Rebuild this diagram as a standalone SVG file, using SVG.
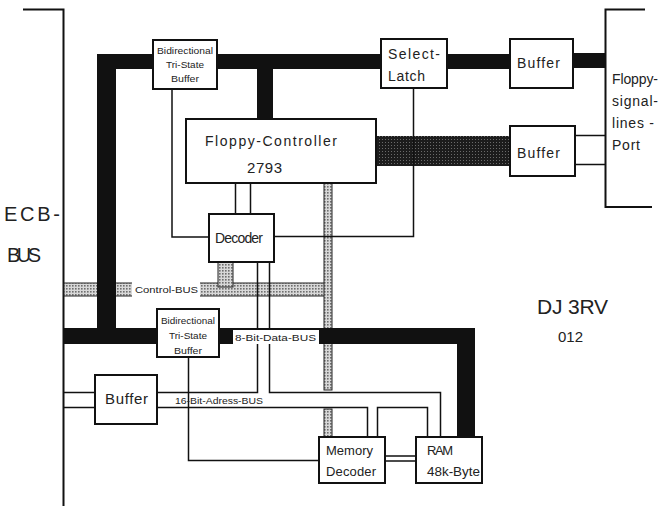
<svg xmlns="http://www.w3.org/2000/svg" width="661" height="506" viewBox="0 0 661 506">
<defs>
<pattern id="light" width="3" height="3" patternUnits="userSpaceOnUse"><rect width="3" height="3" fill="#d8d8d8"/><rect width="1.6" height="1.6" fill="#6e6e6e"/></pattern>
<pattern id="dark" width="3" height="3" patternUnits="userSpaceOnUse"><rect width="3" height="3" fill="#1c1c1c"/><rect x="1" y="1" width="1" height="1" fill="#6a6a6a"/></pattern>
</defs>
<style>
.ln{fill:none;stroke:#111;stroke-width:1.5}
.br{fill:none;stroke:#111;stroke-width:2}
.bus{fill:#111}
.st{fill:url(#light);stroke:#222;stroke-width:1}
.box{fill:#fff;stroke:#111;stroke-width:2}
.t{font-family:"Liberation Sans",Arial,sans-serif;fill:#222}
.lbl{fill:#fff}
</style>
<rect width="661" height="506" fill="#fff"/>
<g id="ecb-bus">
<path class="br" d="M23 9.5H63.5V506"/>
<text class="t" x="4" y="221" font-size="20" textLength="56" lengthAdjust="spacing">ECB-</text>
<text class="t" x="7" y="262" font-size="20" textLength="34" lengthAdjust="spacing">BUS</text>
</g>
<g id="port">
<path class="br" d="M645 9.5H605.5V207H652"/>
<text class="t" x="612" y="84" font-size="14" textLength="46" lengthAdjust="spacing">Floppy-</text>
<text class="t" x="612" y="106" font-size="14" textLength="46" lengthAdjust="spacing">signal-</text>
<text class="t" x="612" y="128" font-size="14" textLength="42" lengthAdjust="spacing">lines -</text>
<text class="t" x="612" y="150" font-size="14" textLength="28" lengthAdjust="spacing">Port</text>
</g>
<g id="connectors">
<rect x="376" y="136" width="134" height="30" fill="url(#dark)"/>
<rect class="st" x="64" y="283" width="264" height="13"/>
<rect class="st" x="218" y="262" width="15" height="25"/>
<rect class="st" x="324" y="183" width="8" height="207"/>
<rect class="st" x="324" y="409" width="8" height="28"/>
<rect class="lbl" x="132" y="282" width="68" height="15"/>
<path class="ln" d="M172 89V237H209"/>
<path class="ln" d="M274 236.5H413.5V88"/>
<path class="ln" d="M235.5 183V214M250.5 183V214"/>
<path class="ln" d="M257.5 262V392.5H157"/>
<path class="ln" d="M269.5 262V392.5H440.5V437"/>
<path class="ln" d="M157 407.5H367.5V437"/>
<path class="ln" d="M377.5 437V407.5H427.5V437"/>
<path class="ln" d="M63 392.5H95M63 407.5H95"/>
<path class="ln" d="M188.5 357V460.5H319"/>
<path class="ln" d="M385 456H416M385 461H416"/>
<path class="ln" d="M575 135.5H605M575 164.5H605"/>
<rect class="bus" x="97" y="54" width="413" height="15"/>
<rect class="bus" x="573" y="53" width="33" height="15"/>
<rect class="bus" x="97" y="54" width="19" height="290"/>
<rect class="bus" x="257" y="68" width="16" height="52"/>
<rect class="bus" x="63" y="328" width="412" height="16"/>
<rect class="bus" x="457" y="328" width="18" height="110"/>
<rect class="lbl" x="233" y="330" width="86" height="14"/>
<text class="t" x="135" y="293" font-size="9.5" textLength="63" lengthAdjust="spacingAndGlyphs">Control-BUS</text>
<text class="t" x="235" y="341" font-size="9.5" textLength="81" lengthAdjust="spacingAndGlyphs">8-Bit-Data-BUS</text>
<text class="t" x="175" y="404" font-size="9.5" textLength="88" lengthAdjust="spacingAndGlyphs">16-Bit-Adress-BUS</text>
</g>
<g id="bidir-top">
<rect class="box" x="153" y="40" width="64" height="49"/>
<text class="t" x="185" y="54" font-size="8.5" text-anchor="middle" textLength="56" lengthAdjust="spacingAndGlyphs">Bidirectional</text>
<text class="t" x="185" y="68" font-size="8.5" text-anchor="middle" textLength="38" lengthAdjust="spacingAndGlyphs">Tri-State</text>
<text class="t" x="185" y="82" font-size="8.5" text-anchor="middle" textLength="28" lengthAdjust="spacingAndGlyphs">Buffer</text>
</g>
<g id="select-latch">
<rect class="box" x="381" y="39" width="66" height="49"/>
<text class="t" x="388" y="59" font-size="14" textLength="52" lengthAdjust="spacing">Select-</text>
<text class="t" x="388" y="81" font-size="14" textLength="37" lengthAdjust="spacing">Latch</text>
</g>
<g id="buffer-1">
<rect class="box" x="510" y="39" width="63" height="49"/>
<text class="t" x="517" y="68" font-size="14" textLength="43" lengthAdjust="spacing">Buffer</text>
</g>
<g id="floppy-controller">
<rect class="box" x="186" y="119" width="190" height="64"/>
<text class="t" x="205" y="146" font-size="14" textLength="132" lengthAdjust="spacing">Floppy-Controller</text>
<text class="t" x="247" y="173" font-size="15" textLength="35" lengthAdjust="spacing">2793</text>
</g>
<g id="buffer-2">
<rect class="box" x="510" y="126" width="65" height="50"/>
<text class="t" x="517" y="158" font-size="14" textLength="43" lengthAdjust="spacing">Buffer</text>
</g>
<g id="decoder">
<rect class="box" x="209" y="214" width="65" height="48"/>
<text class="t" x="215" y="243" font-size="14" textLength="48" lengthAdjust="spacing">Decoder</text>
</g>
<g id="bidir-bottom">
<rect class="box" x="157" y="309" width="62" height="48"/>
<text class="t" x="188" y="324" font-size="8.5" text-anchor="middle" textLength="54" lengthAdjust="spacingAndGlyphs">Bidirectional</text>
<text class="t" x="188" y="339" font-size="8.5" text-anchor="middle" textLength="38" lengthAdjust="spacingAndGlyphs">Tri-State</text>
<text class="t" x="188" y="354" font-size="8.5" text-anchor="middle" textLength="28" lengthAdjust="spacingAndGlyphs">Buffer</text>
</g>
<g id="buffer-left">
<rect class="box" x="95" y="375" width="62" height="49"/>
<text class="t" x="105" y="404" font-size="15" textLength="43" lengthAdjust="spacing">Buffer</text>
</g>
<g id="memory-decoder">
<rect class="box" x="319" y="437" width="66" height="46"/>
<text class="t" x="326" y="455" font-size="13" textLength="47" lengthAdjust="spacing">Memory</text>
<text class="t" x="326" y="476" font-size="13" textLength="50" lengthAdjust="spacing">Decoder</text>
</g>
<g id="ram">
<rect class="box" x="416" y="437" width="66" height="46"/>
<text class="t" x="427" y="455" font-size="13" textLength="26" lengthAdjust="spacing">RAM</text>
<text class="t" x="427" y="476" font-size="13" textLength="53" lengthAdjust="spacingAndGlyphs">48k-Byte</text>
</g>
<g id="signature">
<text class="t" x="537" y="314" font-size="21" textLength="71" lengthAdjust="spacing">DJ 3RV</text>
<text class="t" x="558" y="342" font-size="15" textLength="25" lengthAdjust="spacing">012</text>
</g>
</svg>
